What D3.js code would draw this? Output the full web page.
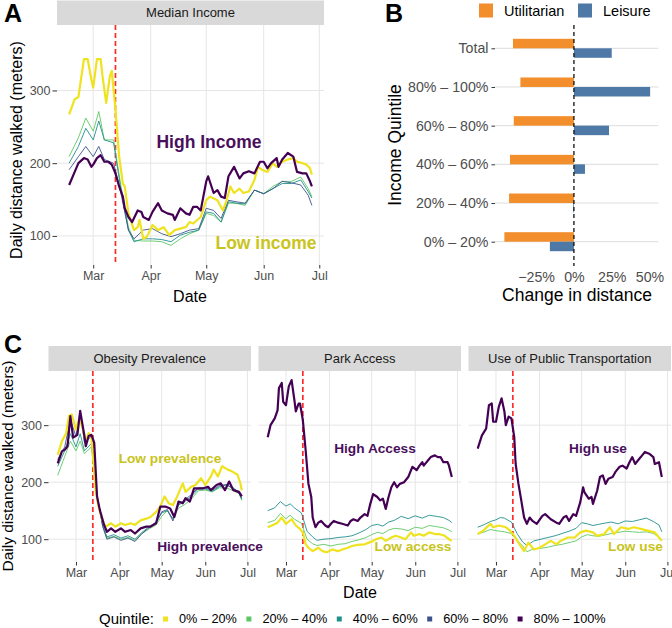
<!DOCTYPE html>
<html><head><meta charset="utf-8">
<script src="https://cdn.jsdelivr.net/npm/d3@7"></script>
<style>body{margin:0;background:#fff} svg{display:block;font-family:"Liberation Sans",Arial,Helvetica,sans-serif}</style>
</head><body><svg id="chart" width="672" height="628"></svg>
<script>
// ---------------- DATA ----------------
const startDate = "2020-02-17";           // day 0 of every series
const lockdownDay = 25;                    // 2020-03-13 (red dashed line)
const yTicks = [100, 200, 300];
const quintiles = ["0% – 20%", "20% – 40%", "40% – 60%", "60% – 80%", "80% – 100%"];
const quintileColors = ["#EEE31E", "#5DC863", "#21908C", "#3B528B", "#440154"];

// coarse day grid used by the middle quintiles
const daysCoarse = [0,5,9,13,16,19,24,28,32,35,40,45,50,55,60,65,70,74,78,82,86,90,95,100,105,110,115,120,125,129,131];

// Panel A: Median income
const incomeLowDays  = [0,3,5,8,10,12,13,15,17,18,20,22,23,25,27,29,30,32,35,37,38,40,42,45,48,51,54,57,60,63,65,67,71,74,76,80,83,85,87,89,92,94,97,100,102,104,107,110,112,115,118,121,123,126,128,130,131];
const incomeLowVals  = [267,288,291,343,343,315,304,343,343,320,283,320,327,274,209,172,168,131,108,112,122,96,99,115,108,112,101,108,110,112,119,117,126,149,154,149,135,149,168,159,165,159,161,177,195,191,188,200,195,202,205,207,202,200,198,193,184];
const incomeHighDays = [0,3,5,8,10,12,13,15,17,19,21,23,25,27,29,30,32,34,37,39,40,43,45,48,50,53,56,57,60,63,65,67,69,71,74,75,78,80,82,84,86,89,92,94,97,100,103,105,107,109,112,113,115,118,121,123,126,128,130,131];
const incomeHighVals = [170,188,200,207,205,195,198,207,211,202,202,198,186,168,154,138,126,119,135,133,126,122,133,145,135,131,129,122,138,131,129,140,140,135,175,182,159,163,154,152,182,195,179,186,189,186,202,202,193,200,207,195,205,214,209,188,186,186,175,168];
const incomeQ2 = [209,235,262,244,271,232,232,168,112,94,93,93,92,87,96,103,108,131,128,119,145,145,142,163,158,168,175,175,181,165,154];
const incomeQ3 = [200,223,248,232,258,232,228,163,108,92,96,96,95,92,101,105,108,133,131,119,147,145,144,163,158,165,172,172,177,161,152];
const incomeQ4 = [191,209,223,209,223,205,200,158,108,96,108,110,103,99,103,108,110,138,135,124,149,147,145,163,158,165,175,173,170,156,142];

// Panel C1: Obesity prevalence
const obesityLowDays  = [0,3,6,8,10,13,15,17,20,22,24,27,29,32,34,38,41,45,48,52,55,59,63,66,70,73,76,79,82,85,89,91,95,98,102,105,109,111,114,117,121,124,128,130,131];
const obesityLowVals  = [248,272,286,316,319,292,310,301,272,286,280,186,157,133,122,128,122,128,125,128,125,133,136,139,148,157,175,163,160,175,198,183,192,195,207,195,210,222,210,228,222,219,213,198,186];
const obesityHighDays = [0,3,5,7,9,11,14,16,19,20,22,24,26,28,30,33,35,38,41,45,48,52,55,59,63,66,70,73,77,80,83,86,89,91,94,97,99,103,107,109,113,116,119,122,125,129,131];
const obesityHighVals = [233,254,257,263,316,278,283,325,281,263,281,283,269,175,151,125,113,119,113,119,113,116,110,119,122,122,128,157,157,154,139,166,163,172,166,189,189,189,192,186,195,198,186,201,186,183,175];
const obesityQ2 = [212,245,272,255,272,250,262,175,125,102,105,100,103,98,110,118,125,140,150,135,155,160,170,185,186,183,190,190,185,180,168];
const obesityQ3 = [228,255,285,262,285,255,268,176,124,104,108,102,106,100,112,122,130,146,150,136,160,165,175,188,188,184,192,195,190,182,170];
const obesityQ4 = [240,262,310,280,325,270,280,178,122,100,104,98,102,96,110,120,128,148,152,132,162,168,178,190,190,186,194,196,188,180,172];

// Panel C2: Park access
const parkLowDays  = [0,3,7,10,13,17,20,23,25,27,29,32,34,36,39,42,46,50,53,57,60,64,69,72,75,77,81,84,88,91,95,98,102,104,108,111,115,119,122,126,129,131];
const parkLowVals  = [121,124,129,138,127,135,124,118,112,91,85,79,82,85,79,77,82,79,82,85,88,90,91,94,97,100,103,97,103,106,103,100,112,106,109,106,112,109,109,106,100,97];
const parkHighDays = [0,2,5,7,8,10,11,13,15,17,19,20,22,23,25,27,29,31,32,34,36,38,41,43,45,47,50,53,57,59,61,64,66,69,71,73,75,78,80,82,84,86,88,90,92,94,97,100,101,103,106,108,110,111,114,116,119,121,123,125,128,129,131];
const parkHighVals = [279,300,312,326,365,374,341,335,368,379,344,324,338,338,309,256,197,174,138,121,129,132,124,121,127,132,129,127,124,132,135,132,138,144,141,162,179,174,168,171,153,174,191,200,191,197,200,209,215,227,221,229,235,229,238,244,247,244,244,235,235,229,209];
const parkQ2 = [129,133,145,136,142,135,128,100,92,89,91,88,91,92,96,99,103,108,112,110,116,119,118,115,121,119,124,122,120,116,113];
const parkQ3 = [150,155,166,158,162,155,146,114,104,98,100,101,103,104,106,111,117,124,126,123,130,133,140,136,141,137,142,140,138,133,129];

// Panel C3: Use of public transportation
const transitLowDays  = [0,4,9,11,15,20,23,26,29,33,36,40,44,48,52,56,59,64,69,73,77,82,85,90,94,97,102,107,111,116,121,126,129,131];
const transitLowVals  = [109,115,127,121,124,121,115,106,94,79,94,82,85,91,97,91,97,103,103,112,115,112,106,109,121,109,121,118,121,118,115,112,103,97];
const transitHighDays = [0,3,6,8,10,11,13,15,17,19,20,22,24,26,27,29,31,33,35,37,39,42,46,48,52,56,58,61,63,65,68,70,73,75,76,79,81,82,85,87,89,91,93,96,98,101,103,106,108,110,112,115,117,119,122,125,126,129,131];
const transitHighVals = [259,282,294,335,338,306,306,332,347,324,300,315,312,279,232,197,168,138,127,138,132,127,141,144,135,129,127,138,141,132,144,141,165,191,182,171,174,162,185,209,212,197,206,209,218,227,229,224,235,244,232,241,247,253,250,244,232,235,209];
const transitQ2 = [109,113,117,115,114,113,110,98,88,78,83,84,86,89,91,94,97,104,108,106,105,107,110,112,114,113,112,113,110,104,99];
const transitQ3 = [121,126,131,134,138,137,130,110,95,89,97,100,103,106,110,114,119,129,127,124,126,128,130,127,132,131,134,137,131,125,113];

// Panel B
const bCategories = ["Total", "80% – 100%", "60% – 80%", "40% – 60%", "20% – 40%", "0% – 20%"];
const bTypes = ["Utilitarian", "Leisure"];
const bTypeColors = ["#F28E2B", "#4E79A7"];
const utilitarianChange = [-40.3, -35.4, -39.8, -42.3, -42.9, -46.0];
const leisureChange     = [25.0, 50.4, 23.2, 7.3, -0.5, -15.9];
const bTicks = [-25, 0, 25, 50];

// ---------------- DRAWING ----------------
const svg = d3.select("#chart");
const t0 = Date.parse(startDate + "T00:00:00Z");
const toDate = d => new Date(t0 + d * 864e5);
const pad = 0.05 * 131;
const xDomain = [toDate(-pad), toDate(131 + pad)];
const zip = (days, vals) => days.map((d, i) => ({d, v: vals[i]}));

function linePanel(o) {
  const g = svg.append("g");
  const x = d3.scaleUtc().domain(xDomain).range([o.x0, o.x1]);
  const y = d3.scaleLinear().domain(o.yDomain).range([o.y1, o.y0]);
  const months = x.ticks(d3.utcMonth.every(1));
  g.selectAll(".vg").data(months).join("line")
    .attr("x1", d => x(d)).attr("x2", d => x(d)).attr("y1", o.y0).attr("y2", o.y1)
    .attr("stroke", "#E3E3E3").attr("stroke-width", 0.9);
  g.selectAll(".hg").data(yTicks).join("line")
    .attr("x1", o.x0).attr("x2", o.x1).attr("y1", d => y(d)).attr("y2", d => y(d))
    .attr("stroke", "#E3E3E3").attr("stroke-width", 0.9);
  g.append("rect").attr("x", o.x0).attr("y", o.stripY).attr("width", o.x1 - o.x0).attr("height", o.y0 - o.stripY).attr("fill", "#D9D9D9");
  g.append("text").attr("x", (o.x0 + o.x1) / 2).attr("y", (o.stripY + o.y0) / 2).attr("dy", "0.35em")
    .attr("text-anchor", "middle").attr("font-size", 13).attr("fill", "#1A1A1A").text(o.strip);
  const xa = g.append("g").attr("transform", `translate(0,${o.y1})`)
    .call(d3.axisBottom(x).tickValues(months).tickFormat(d3.utcFormat("%b")).tickSize(3.5).tickPadding(3));
  xa.select(".domain").remove();
  xa.selectAll("line").attr("stroke", "#333");
  xa.selectAll("text").attr("fill", "#4D4D4D").attr("font-size", 12.5).attr("font-family", null);
  if (o.yAxis) {
    const ya = g.append("g").attr("transform", `translate(${o.x0},0)`)
      .call(d3.axisLeft(y).tickValues(yTicks).tickSize(4.5).tickPadding(2));
    ya.select(".domain").remove();
    ya.selectAll("line").attr("stroke", "#333");
    ya.selectAll("text").attr("fill", "#4D4D4D").attr("font-size", 12.5).attr("font-family", null);
  }
  g.append("line").attr("x1", x(toDate(lockdownDay))).attr("x2", x(toDate(lockdownDay)))
    .attr("y1", o.y0).attr("y2", o.y1).attr("stroke", "#FF2A2A").attr("stroke-width", 1.7).attr("stroke-dasharray", "5,3");
  const line = d3.line().x(p => x(toDate(p.d))).y(p => y(p.v));
  o.series.forEach(s => {
    g.append("path").datum(s.data).attr("d", line).attr("fill", "none")
      .attr("stroke", quintileColors[s.q]).attr("stroke-width", s.thick ? 2.2 : 0.9)
      .attr("stroke-linejoin", "round");
  });
  o.labels.forEach(l => {
    g.append("text").attr("x", l.x).attr("y", l.y).attr("text-anchor", "middle")
      .attr("font-weight", "bold").attr("font-size", l.size).attr("fill", l.color).text(l.text);
  });
  return g;
}

const lowLabel = "#C9C41C", highLabel = "#4A0F5C";

// Panel A
linePanel({
  x0: 57, x1: 324, y0: 25, y1: 265, stripY: 0.5, yDomain: [60, 390], yAxis: true, strip: "Median Income",
  series: [
    {q: 1, data: zip(daysCoarse, incomeQ2)},
    {q: 2, data: zip(daysCoarse, incomeQ3)},
    {q: 3, data: zip(daysCoarse, incomeQ4)},
    {q: 0, thick: true, data: zip(incomeLowDays, incomeLowVals)},
    {q: 4, thick: true, data: zip(incomeHighDays, incomeHighVals)}
  ],
  labels: [
    {text: "High Income", x: 209, y: 148, size: 17.5, color: highLabel},
    {text: "Low income", x: 266, y: 249, size: 17.5, color: lowLabel}
  ]
});

// Panel C
const cPanels = [
  {strip: "Obesity Prevalence", yAxis: true,
   series: [
     {q: 1, data: zip(daysCoarse, obesityQ2)},
     {q: 2, data: zip(daysCoarse, obesityQ3)},
     {q: 3, data: zip(daysCoarse, obesityQ4)},
     {q: 0, thick: true, data: zip(obesityLowDays, obesityLowVals)},
     {q: 4, thick: true, data: zip(obesityHighDays, obesityHighVals)}],
   labels: [{text: "Low prevalence", dx: 121.5, y: 463}, {text: "High prevalence", dx: 161.5, y: 551, high: true}]},
  {strip: "Park Access",
   series: [
     {q: 1, data: zip(daysCoarse, parkQ2)},
     {q: 2, data: zip(daysCoarse, parkQ3)},
     {q: 0, thick: true, data: zip(parkLowDays, parkLowVals)},
     {q: 4, thick: true, data: zip(parkHighDays, parkHighVals)}],
   labels: [{text: "High Access", dx: 116.5, y: 453, high: true}, {text: "Low access", dx: 154.5, y: 551}]},
  {strip: "Use of Public Transportation",
   series: [
     {q: 1, data: zip(daysCoarse, transitQ2)},
     {q: 2, data: zip(daysCoarse, transitQ3)},
     {q: 0, thick: true, data: zip(transitLowDays, transitLowVals)},
     {q: 4, thick: true, data: zip(transitHighDays, transitHighVals)}],
   labels: [{text: "High use", dx: 129.5, y: 453, high: true}, {text: "Low use", dx: 167, y: 551}]}
];
cPanels.forEach((p, i) => {
  const x0 = 48.5 + i * 210;
  linePanel({
    x0, x1: x0 + 202.5, y0: 371, y1: 562, stripY: 346, yDomain: [60, 395], yAxis: p.yAxis, strip: p.strip,
    series: p.series,
    labels: p.labels.map(l => ({text: l.text, x: x0 + l.dx, y: l.y, size: 13.7, color: l.high ? highLabel : lowLabel}))
  });
});

// Panel B
(function () {
  const g = svg.append("g");
  const x0 = 495, x1 = 658.3, y0 = 25, y1 = 266;
  const x = d3.scaleLinear().domain([-52.2, 55.8]).range([x0, x1]);
  const y = d3.scalePoint().domain(bCategories).range([48.3, 241.7]);
  const sub = d3.scaleBand().domain(bTypes).range([-9.5, 9.5]);
  g.selectAll(".hg").data(bCategories).join("line")
    .attr("x1", x0).attr("x2", x1).attr("y1", d => y(d)).attr("y2", d => y(d))
    .attr("stroke", "#DDDDDD").attr("stroke-width", 1);
  const rows = bCategories.map((c, i) => [
    {c, type: bTypes[0], v: utilitarianChange[i]},
    {c, type: bTypes[1], v: leisureChange[i]}]).flat();
  g.selectAll(".bar").data(rows).join("rect")
    .attr("x", d => x(Math.min(0, d.v))).attr("width", d => Math.abs(x(d.v) - x(0)))
    .attr("y", d => y(d.c) + sub(d.type)).attr("height", sub.bandwidth())
    .attr("fill", d => bTypeColors[bTypes.indexOf(d.type)]);
  g.append("line").attr("x1", x(0)).attr("x2", x(0)).attr("y1", y0).attr("y2", y1)
    .attr("stroke", "#111").attr("stroke-width", 1.3).attr("stroke-dasharray", "4,3");
  const ya = g.append("g").attr("transform", `translate(${x0},0)`)
    .call(d3.axisLeft(y).tickSize(3.5).tickPadding(3));
  ya.select(".domain").remove();
  ya.selectAll("line").attr("stroke", "#333");
  ya.selectAll("text").attr("fill", "#4D4D4D").attr("font-size", 14.2).attr("font-family", null);
  const xa = g.append("g").attr("transform", `translate(0,${y1})`)
    .call(d3.axisBottom(x).tickValues(bTicks).tickSize(0).tickPadding(6)
      .tickFormat(d => (d < 0 ? "−" : "") + Math.abs(d) + "%"));
  xa.select(".domain").remove();
  xa.selectAll("text").attr("fill", "#4D4D4D").attr("font-size", 14.2).attr("font-family", null);
  g.append("text").attr("x", 577).attr("y", 301).attr("text-anchor", "middle").attr("font-size", 17.5).text("Change in distance");
  g.append("text").attr("transform", "translate(401,145) rotate(-90)").attr("text-anchor", "middle").attr("font-size", 17.5).text("Income Quintile");
  const lx = [479, 578];
  bTypes.forEach((t, i) => {
    g.append("rect").attr("x", lx[i]).attr("y", 3.5).attr("width", 14).attr("height", 14).attr("fill", bTypeColors[i]);
    g.append("text").attr("x", lx[i] + 25).attr("y", 10.5).attr("dy", "0.35em").attr("font-size", 14.5).text(t);
  });
  g.append("text").attr("x", 385).attr("y", 22).attr("font-weight", "bold").attr("font-size", 25).text("B");
})();

// Titles for A and C
svg.append("text").attr("x", 4).attr("y", 22).attr("font-weight", "bold").attr("font-size", 25).text("A");
svg.append("text").attr("x", 4).attr("y", 353).attr("font-weight", "bold").attr("font-size", 25).text("C");
svg.append("text").attr("x", 190).attr("y", 302).attr("text-anchor", "middle").attr("font-size", 16).text("Date");
svg.append("text").attr("transform", "translate(22,150) rotate(-90)").attr("text-anchor", "middle").attr("font-size", 16).text("Daily distance walked (meters)");
svg.append("text").attr("x", 360).attr("y", 598).attr("text-anchor", "middle").attr("font-size", 16).text("Date");
svg.append("text").attr("transform", "translate(13,466) rotate(-90)").attr("text-anchor", "middle").attr("font-size", 15.5).text("Daily distance walked (meters)");

// Bottom legend
(function () {
  const g = svg.append("g");
  const cy = 619;
  const title = g.append("text").attr("x", 99).attr("y", cy).attr("dy", "0.35em").attr("font-size", 15).text("Quintile:");
  let cx = 99 + title.node().getComputedTextLength() + 9;
  quintiles.forEach((q, i) => {
    g.append("rect").attr("x", cx).attr("y", cy - 2.5).attr("width", 5).attr("height", 5).attr("fill", quintileColors[i]);
    const t = g.append("text").attr("x", cx + 16).attr("y", cy).attr("dy", "0.35em").attr("font-size", 12.7).text(q);
    cx += 16 + t.node().getComputedTextLength() + 9.5;
  });
})();
</script>
</body></html>
